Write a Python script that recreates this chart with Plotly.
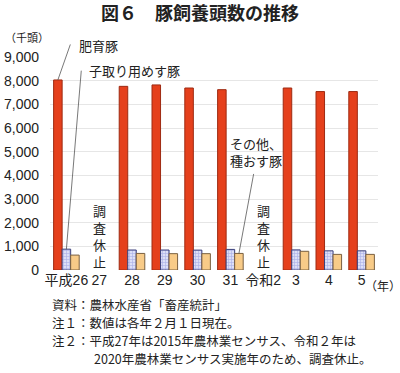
import plotly.graph_objects as go

categories = ["平成26", "27", "28", "29", "30", "31", "令和2", "3", "4", "5"]
fattening = [8030, None, 7760, 7820, 7690, 7620, None, 7690, 7540, 7540]
breeding_sows = [880, None, 845, 845, 840, 870, None, 850, 810, 810]
others = [630, None, 700, 690, 690, 700, None, 790, 660, 660]

FONT = "Arial, Liberation Sans, Noto Sans CJK JP"
JP = "Noto Sans CJK JP"

fig = go.Figure()
fig.add_bar(x=categories, y=fattening, name="肥育豚",
            marker=dict(color="#E5401C", line=dict(color="#9E2A12", width=1)))
fig.add_bar(x=categories, y=breeding_sows, name="子取り用めす豚",
            marker=dict(color="#DCDFF7", line=dict(color="#3A3F7A", width=1),
                        pattern=dict(shape="+", fgcolor="#7A80D8", bgcolor="#DCDFF7", size=3, solidity=0.35)))
fig.add_bar(x=categories, y=others, name="その他、種おす豚",
            marker=dict(color="#F8CB88", line=dict(color="#7A6040", width=1)))

W, H = 400, 373
L, R, T, B = 50, 378, 57, 270  # plot area in pixels
def px(x): return (x - L) / (R - L)
def py(y): return (B - y) / (B - T)

ann = []
def txt(t, x, y, size=13, xanchor="left", align="left"):
    ann.append(dict(text=t, x=px(x), y=py(y), xref="paper", yref="paper", xanchor=xanchor, yanchor="middle",
                    showarrow=False, align=align, font=dict(size=size, family=JP, color="#222")))

txt("肥育豚", 77, 46)
txt("子取り用めす豚", 87, 70)
txt("その他、<br>種おす豚", 256, 152, xanchor="center", align="center")

gw = 0.78 / 3
ann.append(dict(text="", x=0 - gw, y=fattening[0], xref="x", yref="y", showarrow=True, arrowhead=0,
                arrowwidth=0.8, arrowcolor="#555", ax=13, ay=-37, standoff=0))
ann.append(dict(text="", x=0, y=breeding_sows[0], xref="x", yref="y", showarrow=True, arrowhead=0,
                arrowwidth=0.8, arrowcolor="#555", ax=15, ay=-180, standoff=0))
ann.append(dict(text="", x=5 + gw, y=others[5], xref="x", yref="y", showarrow=True, arrowhead=0,
                arrowwidth=0.8, arrowcolor="#555", ax=15, ay=-81, standoff=0))

for idx in [1, 6]:
    ann.append(dict(text="調<br>査<br>休<br>止", x=idx, y=py(236), xref="x", yref="paper", xanchor="center",
                    yanchor="middle", showarrow=False, align="center",
                    font=dict(size=13, family=JP, color="#222")))

txt("（千頭）", 3, 37, size=11)
txt("（年）", 363, 285, size=12)

notes = [
    (50, 304, "資料：農林水産省「畜産統計」"),
    (50, 322, "注１：数値は各年２月１日現在。"),
    (50, 340, "注２：平成27年は2015年農林業センサス、令和２年は"),
    (92, 358, "2020年農林業センサス実施年のため、調査休止。"),
]
for x0, y0, t in notes:
    txt(t, x0, y0, size=12.5)

fig.update_layout(
    width=W, height=H,
    margin=dict(l=L, r=W - R, t=T, b=H - B, pad=0, autoexpand=False),
    paper_bgcolor="white", plot_bgcolor="white",
    barmode="group", bargap=0.22, bargroupgap=0,
    showlegend=False,
    title=dict(text="<b>図６　豚飼養頭数の推移</b>", x=0.5, xanchor="center",
               y=1 - 14 / H, yanchor="middle", automargin=False,
               font=dict(size=18, family=JP, color="#222")),
    annotations=ann,
    font=dict(family=FONT, color="#222"),
)
fig.update_yaxes(range=[0, 9000], dtick=1000, tickformat=",", showgrid=True, gridcolor="#E6E6E6",
                 zeroline=False, showline=False, ticks="", ticklabelstandoff=10, automargin=False,
                 tickfont=dict(size=14, family=FONT, color="#222"))
fig.update_xaxes(type="category", categoryorder="array", categoryarray=categories, range=[-0.5, 9.5],
                 tickangle=0, showgrid=False, showline=False, ticks="", automargin=False,
                 tickfont=dict(size=14, family=FONT, color="#222"))

fig.write_html("out.html", config={"displayModeBar": False},
               post_script="document.body.style.margin='0px';document.body.style.overflow='hidden';")
